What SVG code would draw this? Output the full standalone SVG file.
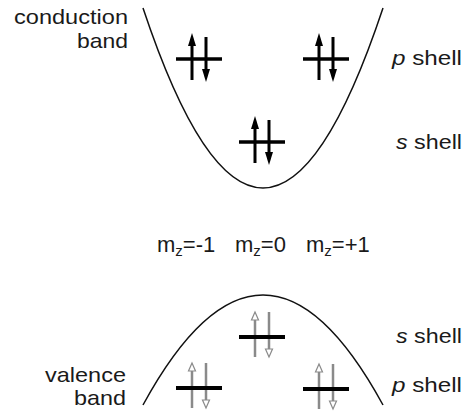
<svg xmlns="http://www.w3.org/2000/svg" xmlns:xlink="http://www.w3.org/1999/xlink" width="465" height="412" viewBox="0 0 465 412">
  <style>
    text { font-family: "Liberation Sans", Arial, sans-serif; font-size: 21px; fill: #1a1a1a; }
    .mz { font-size: 22px; }
    .band { fill: none; stroke: #111; stroke-width: 1.5; }
    .level { stroke: #000; stroke-width: 3.5; }
    .cspin { stroke: #000; stroke-width: 3; }
    .chead { fill: #000; }
    .vspin { stroke: #8a8a8a; stroke-width: 2.5; }
    .vhead { fill: #fff; stroke: #8a8a8a; stroke-width: 1.2; }
  </style>
  <defs>
    <g id="cpair">
      <line class="level" x1="-23" y1="0" x2="23" y2="0"/>
      <line class="cspin" x1="-7" y1="21" x2="-7" y2="-16"/>
      <polygon class="chead" points="-7,-26 -11,-13 -3,-13"/>
      <line class="cspin" x1="7" y1="-22" x2="7" y2="13"/>
      <polygon class="chead" points="7,23 3,10 11,10"/>
    </g>
    <g id="vpair">
      <line class="vspin" x1="-7" y1="20" x2="-7" y2="-17"/>
      <polygon class="vhead" points="-7,-25 -10.5,-17 -3.5,-17"/>
      <line class="vspin" x1="7" y1="-25" x2="7" y2="12"/>
      <polygon class="vhead" points="7,20 3.5,12 10.5,12"/>
      <line class="level" x1="-23" y1="0" x2="23" y2="0" style="stroke-width:4"/>
    </g>
  </defs>

  <g id="connectors">
    <path id="conduction-curve" class="band" d="M143,8 Q263,368 383,8"/>
    <path id="valence-curve" class="band" d="M143,405 Q263,185 383,405"/>
  </g>

  <g id="conduction-label">
    <text x="14" y="24" textLength="114" lengthAdjust="spacingAndGlyphs">conduction</text>
    <text x="77" y="48" textLength="51" lengthAdjust="spacingAndGlyphs">band</text>
  </g>
  <g id="valence-label">
    <text x="45" y="382" textLength="81" lengthAdjust="spacingAndGlyphs">valence</text>
    <text x="74" y="405" textLength="52" lengthAdjust="spacingAndGlyphs">band</text>
  </g>

  <g id="cb-p-minus1"><use xlink:href="#cpair" transform="translate(199,59)"/></g>
  <g id="cb-p-plus1"><use xlink:href="#cpair" transform="translate(326,59)"/></g>
  <g id="cb-s"><use xlink:href="#cpair" transform="translate(262,142)"/></g>

  <g id="vb-s"><use xlink:href="#vpair" transform="translate(262,337)"/></g>
  <g id="vb-p-minus1"><use xlink:href="#vpair" transform="translate(199,388)"/></g>
  <g id="vb-p-plus1"><use xlink:href="#vpair" transform="translate(326,389)"/></g>

  <g id="shell-labels">
    <text x="392" y="65" textLength="70" lengthAdjust="spacingAndGlyphs"><tspan font-style="italic">p</tspan> shell</text>
    <text x="396" y="149" textLength="66" lengthAdjust="spacingAndGlyphs"><tspan font-style="italic">s</tspan> shell</text>
    <text x="396" y="343" textLength="66" lengthAdjust="spacingAndGlyphs"><tspan font-style="italic">s</tspan> shell</text>
    <text x="392" y="392" textLength="70" lengthAdjust="spacingAndGlyphs"><tspan font-style="italic">p</tspan> shell</text>
  </g>

  <g id="mz-labels">
    <text class="mz" x="157" y="252">m<tspan font-size="15" dy="4">z</tspan><tspan dy="-4">=-1</tspan></text>
    <text class="mz" x="235" y="252">m<tspan font-size="15" dy="4">z</tspan><tspan dy="-4">=0</tspan></text>
    <text class="mz" x="306" y="252">m<tspan font-size="15" dy="4">z</tspan><tspan dy="-4">=+1</tspan></text>
  </g>
</svg>
